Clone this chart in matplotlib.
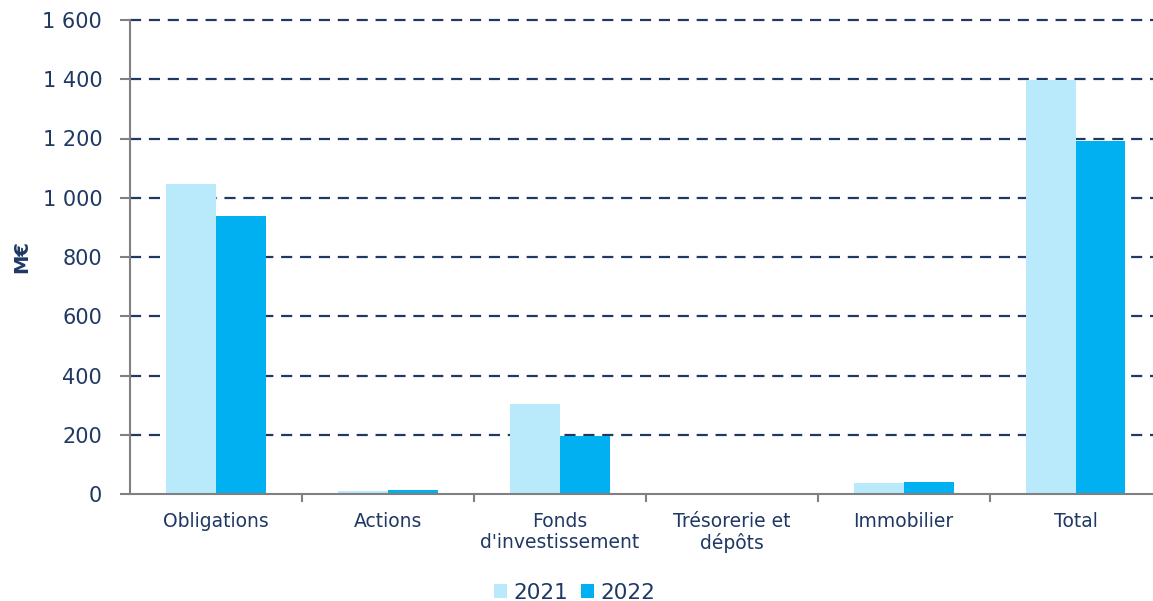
import numpy as np
import matplotlib
matplotlib.use('Agg')
import matplotlib.pyplot as plt
from matplotlib.ticker import FuncFormatter, FixedLocator

categories = ['Obligations', 'Actions', 'Fonds\nd\'investissement',
              'Trésorerie et\ndépôts', 'Immobilier', 'Total']
v2021 = [1046, 10, 304, 0, 37, 1397]
v2022 = [938, 12, 196, 0, 40, 1192]
years = ['2021', '2022']

navy = '#1F3864'
c21 = '#B9EAFB'
c22 = '#00B0F0'

fig = plt.figure(figsize=(11.53, 6.01), dpi=100)
ax = fig.add_axes([130 / 1153, 1 - 494 / 601, 1 - 130 / 1153, (494 - 20) / 601])

x = np.arange(len(categories))
w = 0.29
ax.bar(x - w / 2, v2021, w, color=c21, label=years[0], zorder=3)
ax.bar(x + w / 2, v2022, w, color=c22, label=years[1], zorder=3)

ax.set_ylim(0, 1600)
ax.set_xlim(-0.5, 5.45)
ax.set_yticks(np.arange(0, 1601, 200))
ax.yaxis.set_major_formatter(FuncFormatter(lambda v, p: f'{int(v):,}'.replace(',', ' ')))
ax.yaxis.grid(True, color=navy, linestyle=(0, (5, 3.5)), linewidth=1.6, zorder=1)
ax.set_axisbelow(True)
gl = ax.yaxis.get_gridlines()
for g in gl:
    g.set_clip_on(False)
gl[0].set_visible(False)

ax.set_xticks(x)
ax.set_xticklabels(categories, fontsize=13.5, color=navy, linespacing=1.1)
ax.tick_params(axis='x', which='major', length=0, pad=13)
ax.xaxis.set_minor_locator(FixedLocator(np.arange(0.5, 5.0, 1)))
ax.tick_params(axis='x', which='minor', length=6, color='#808080', width=1.5)
ax.tick_params(axis='y', length=7, color='#808080', width=1.5, labelsize=15,
               labelcolor=navy, pad=13)

for s in ['top', 'right']:
    ax.spines[s].set_visible(False)
for s in ['left', 'bottom']:
    ax.spines[s].set_color('#808080')
    ax.spines[s].set_linewidth(1.5)
    ax.spines[s].set_zorder(4)

ax.set_ylabel('M€', fontsize=14, fontweight='bold', color=navy, labelpad=8)

leg = fig.legend(loc='lower center', bbox_to_anchor=(575 / 1153, -0.035), ncol=2,
                 frameon=False, fontsize=15.5, handlelength=0.6, handleheight=0.6,
                 handletextpad=0.3, columnspacing=0.6)
for t in leg.get_texts():
    t.set_color(navy)

fig.savefig('out.png', dpi=100)
